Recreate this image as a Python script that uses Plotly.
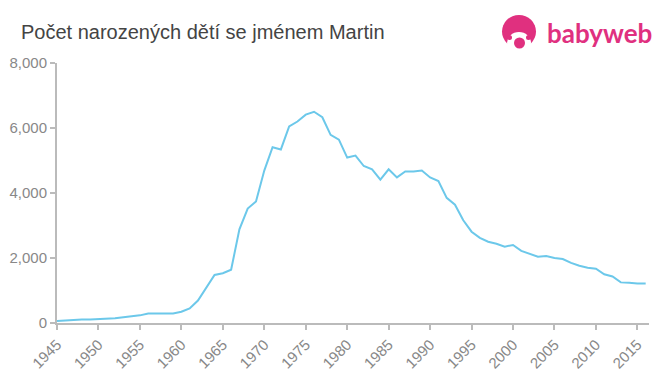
import plotly.graph_objects as go

years = list(range(1945, 2017))
counts = [60, 80, 80, 110, 110, 120, 140, 150, 180, 200, 235, 295, 295, 295, 295, 345,
          450, 690, 1100, 1480, 1530, 1640, 2880, 3520, 3740, 4690, 5410, 5340, 6050, 6200,
          6410, 6500, 6330, 5790, 5640, 5090, 5150, 4830, 4730, 4410, 4730, 4480, 4660, 4660,
          4690, 4480, 4370, 3850, 3640, 3160, 2810, 2620, 2500, 2440, 2350, 2400, 2220, 2130,
          2040, 2060, 2000, 1970, 1850, 1760, 1700, 1670, 1500, 1430, 1250, 1240, 1215, 1215]

x_ticks = list(range(1945, 2016, 5))
y_ticks = [0, 2000, 4000, 6000, 8000]
y_labels = ["0", "2,000", "4,000", "6,000", "8,000"]

title_text = "Počet narozených dětí se jménem Martin"
logo_text = "babyweb"

# page body has an 8px default margin; compensate so the plot lands where the reference has it
OFF = 8
W, H = 660 - OFF, 375 - OFF
L, R, T, B = 57 - OFF, 11, 63 - OFF, 52
PW, PH = W - L - R, H - T - B


def px(xp):
    return (xp - OFF - L) / PW


def py(yp):
    return (H - B - (yp - OFF)) / PH


fig = go.Figure()
fig.add_trace(go.Scatter(x=years, y=counts, mode="lines",
                         line=dict(color="#6cc8ea", width=2), hoverinfo="x+y"))

axis_col = "#bbbbbb"
pink = "#e0307f"
fig.update_layout(
    width=W, height=H,
    margin=dict(l=L, r=R, t=T, b=B, autoexpand=False),
    paper_bgcolor="white", plot_bgcolor="white",
    showlegend=False,
    font=dict(family="Liberation Sans, Arial, sans-serif"),
    xaxis=dict(range=[1945, 2016.4], tickvals=x_ticks, ticktext=[str(v) for v in x_ticks],
               tickangle=-45, showgrid=False, zeroline=False, showline=True, automargin=False,
               linecolor=axis_col, linewidth=2, ticks="outside", ticklen=5,
               tickcolor=axis_col, tickwidth=2,
               tickfont=dict(size=15, color="#888888")),
    yaxis=dict(range=[0, 8000], tickvals=y_ticks, ticktext=y_labels,
               showgrid=False, zeroline=False, showline=True, automargin=False,
               linecolor=axis_col, linewidth=2, ticks="outside", ticklen=5,
               tickcolor=axis_col, tickwidth=2,
               tickfont=dict(size=15, color="#888888")),
    annotations=[
        dict(text=title_text, xref="paper", yref="paper", x=px(19), y=py(32),
             xanchor="left", yanchor="middle", showarrow=False,
             font=dict(size=20, color="#444444")),
        dict(text="<b>" + logo_text + "</b>", xref="paper", yref="paper", x=px(654), y=py(33),
             xanchor="right", yanchor="middle", showarrow=False,
             font=dict(size=26, color=pink, family="Lato, Liberation Sans, sans-serif")),
    ],
)

# logo icon: head with hair, face, ears and pacifier
fig.add_shape(type="circle", xref="paper", yref="paper",
              x0=px(502), x1=px(536), y0=py(48), y1=py(15),
              fillcolor=pink, line=dict(width=0))
fig.add_shape(type="circle", xref="paper", yref="paper",
              x0=px(507), x1=px(531), y0=py(54), y1=py(32),
              fillcolor="white", line=dict(width=0))
fig.add_shape(type="circle", xref="paper", yref="paper",
              x0=px(507), x1=px(512), y0=py(40), y1=py(35),
              fillcolor=pink, line=dict(width=0))
fig.add_shape(type="circle", xref="paper", yref="paper",
              x0=px(526), x1=px(531), y0=py(40), y1=py(35),
              fillcolor=pink, line=dict(width=0))
fig.add_shape(type="circle", xref="paper", yref="paper",
              x0=px(514), x1=px(525), y0=py(48.5), y1=py(37.5),
              fillcolor=pink, line=dict(width=0))

fig.write_html("out.html")
